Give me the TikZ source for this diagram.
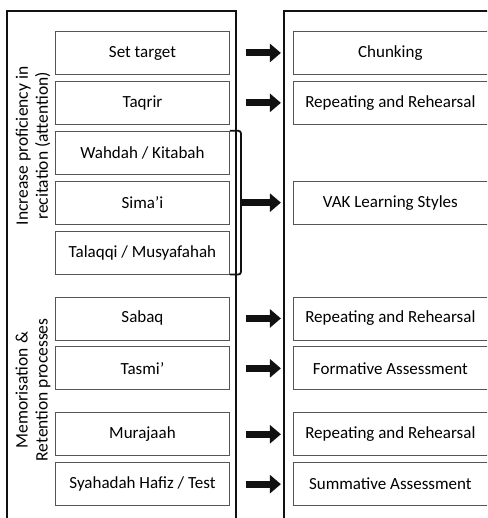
\documentclass[tikz,border=0pt]{standalone}
\usepackage{fontspec}
\setmainfont{Carlito}
\usetikzlibrary{arrows.meta,positioning}
\definecolor{hfline}{HTML}{555555}
\definecolor{hfblack}{HTML}{111111}
\tikzset{
  box/.style={draw=hfline, line width=0.9pt, minimum height=43pt, inner sep=2pt,
              font=\fontsize{17}{20}\selectfont, anchor=north west},
  lbox/.style={box, minimum width=174pt},
  rbox/.style={box, minimum width=210pt},
  frame/.style={draw=hfblack, line width=1.2pt},
  blk/.style={-{Triangle[length=11pt,width=18pt]}, line width=7pt, draw=hfblack,
              shorten <=16pt, shorten >=12pt},
  brace/.style={draw=hfblack, line width=1.8pt, rounded corners=2.5pt},
  side/.style={rotate=90, align=center, font=\fontsize{17.5}{20}\selectfont},
}

\begin{document}
\begin{tikzpicture}[x=1pt, y=-1pt]
    \useasboundingbox (0,0) rectangle (487,518);
    \clip (0,0) rectangle (487,518);
    % outer frames
    \draw[frame] (7,11) rectangle (236,540);
    \draw[frame] (284,11) rectangle (520,540);
    % left column
    \node[lbox] (set) at (55,31)         {Set target};
    \node[lbox, below=6pt of set] (taq)  {Taqrir};
    \node[lbox, below=6pt of taq] (wah)  {Wahdah / Kitabah};
    \node[lbox, below=6pt of wah] (sim)  {Sima’i};
    \node[lbox, below=6pt of sim] (tal)  {Talaqqi / Musyafahah};
    \node[lbox, below=22pt of tal] (sab) {Sabaq};
    \node[lbox, below=6pt of sab] (tas)  {Tasmi’};
    \node[lbox, below=22pt of tas] (mur) {Murajaah};
    \node[lbox, below=6pt of mur] (syh)  {Syahadah Hafiz / Test};
    % right column
    \node[rbox, right=63pt of set] (chunk) {\hspace*{-16pt}Chunking};
    \node[rbox, right=63pt of taq] (rep1)  {\hspace*{-16pt}Repeating and Rehearsal};
    \node[rbox, right=63pt of sim] (vak)   {\hspace*{-16pt}VAK Learning Styles};
    \node[rbox, right=63pt of sab] (rep2)  {\hspace*{-16pt}Repeating and Rehearsal};
    \node[rbox, right=63pt of tas] (form)  {\hspace*{-16pt}Formative Assessment};
    \node[rbox, right=63pt of mur] (rep3)  {\hspace*{-16pt}Repeating and Rehearsal};
    \node[rbox, right=63pt of syh] (summ)  {\hspace*{-16pt}Summative Assessment};
    % side labels
    \node[side] (lab1) at (33,146) {Increase proficiency in\\recitation (attention)};
    \node[side] (lab2) at (33,390) {Memorisation \&\\Retention processes};
    % bracket
    \draw[brace] (wah.north east) -- ++(11,0) |- (tal.south east);
    \coordinate[right=11pt of sim.east] (br);
    % arrows
    \draw[blk] (set) -- (chunk);
    \draw[blk] (taq) -- (rep1);
    \draw[blk, shorten <=0.5pt] (br) -- (vak);
    \draw[blk] (sab) -- (rep2);
    \draw[blk] (tas) -- (form);
    \draw[blk] (mur) -- (rep3);
    \draw[blk] (syh) -- (summ);
\end{tikzpicture}
\end{document}
